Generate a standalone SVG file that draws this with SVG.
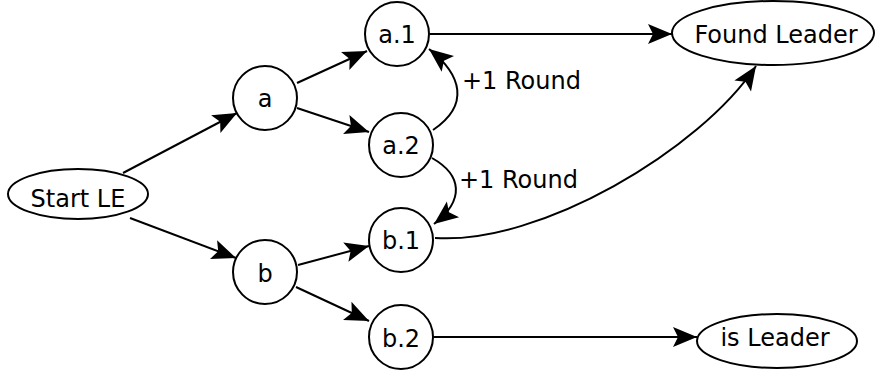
<svg xmlns="http://www.w3.org/2000/svg" width="877" height="374" viewBox="0 0 877 374">
<style>
.n ellipse,.n circle{fill:#fff;stroke:#000;stroke-width:2}
text{font-family:"DejaVu Sans",sans-serif;font-size:24px;fill:#000;text-anchor:middle}
.c path{fill:none;stroke:#000;stroke-width:2}
.lbl{text-anchor:start}
</style>
<defs>
<marker id="ah" markerUnits="userSpaceOnUse" markerWidth="30" markerHeight="26" viewBox="-26 -13 30 26" refX="0" refY="0" orient="auto">
<path d="M-24,-10 L0,0 L-24,10 L-19,0 z" fill="#000"/>
</marker>
</defs>
<rect width="877" height="374" fill="#fff"/>
<g class="c">
<path d="M123,173 L237,113" marker-end="url(#ah)"/>
<path d="M130,218 L236,258" marker-end="url(#ah)"/>
<path d="M297,83 L367,51" marker-end="url(#ah)"/>
<path d="M297,108 L369,132" marker-end="url(#ah)"/>
<path d="M430,34 L672,34" marker-end="url(#ah)"/>
<path d="M433,130 C470,105 462,75 429,49" marker-end="url(#ah)"/>
<path d="M432,158 C462,175 465,200 434,224" marker-end="url(#ah)"/>
<path d="M435,238 C540,245 700,150 756,66" marker-end="url(#ah)"/>
<path d="M298,265 L369,246" marker-end="url(#ah)"/>
<path d="M296,287 L369,321" marker-end="url(#ah)"/>
<path d="M433,337 L697,337" marker-end="url(#ah)"/>
</g>
<g id="start" class="n"><ellipse cx="78" cy="194" rx="70" ry="25"/><text x="78" y="207">Start LE</text></g>
<g id="a" class="n"><circle cx="265" cy="98" r="32"/><text x="265" y="107">a</text></g>
<g id="a1" class="n"><circle cx="397" cy="34" r="32"/><text x="397" y="43">a.1</text></g>
<g id="a2" class="n"><circle cx="401" cy="145" r="32"/><text x="401" y="154">a.2</text></g>
<g id="b" class="n"><circle cx="265" cy="272" r="32"/><text x="265" y="282">b</text></g>
<g id="b1" class="n"><circle cx="401" cy="240" r="32"/><text x="401" y="249">b.1</text></g>
<g id="b2" class="n"><circle cx="401" cy="337" r="32"/><text x="401" y="347">b.2</text></g>
<g id="found" class="n"><ellipse cx="773" cy="33" rx="101" ry="32"/><text x="776" y="43">Found Leader</text></g>
<g id="isleader" class="n"><ellipse cx="777" cy="341" rx="80" ry="27"/><text x="775" y="346">is Leader</text></g>
<g id="labels">
<text class="lbl" x="462" y="89">+1 Round</text>
<text class="lbl" x="459" y="188">+1 Round</text>
</g>
</svg>
